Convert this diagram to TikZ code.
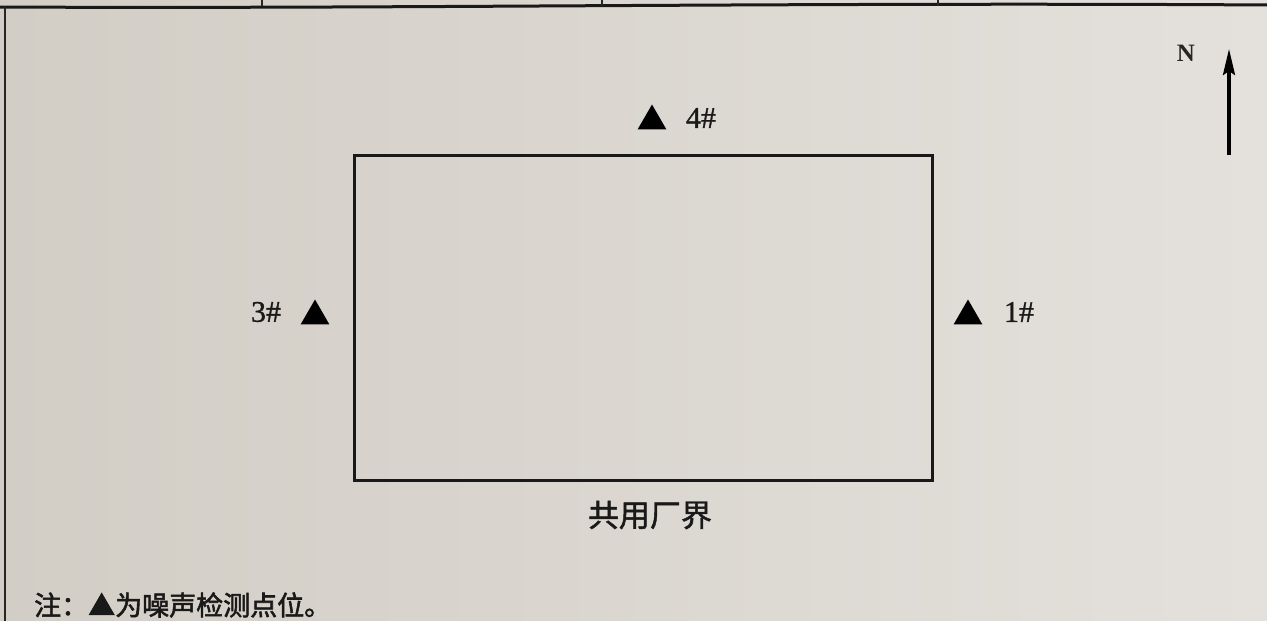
\documentclass[tikz,border=0pt]{standalone}
\usepackage{fontspec}
\setmainfont{Liberation Serif}
\newfontfamily\cjk[FakeBold=1.5]{Noto Sans CJK SC}
\newfontfamily\cjkn[FakeBold=2]{Noto Sans CJK SC}
\newfontfamily\numfont[FakeBold=1]{Liberation Serif}
\usetikzlibrary{shapes.geometric,arrows.meta}
\definecolor{paperL}{RGB}{210,205,197}
\definecolor{paperR}{RGB}{228,225,220}
\tikzset{
  line/.style={draw=black!90, line width=3pt},
  site/.style={regular polygon, regular polygon sides=3, fill=black, inner sep=0pt, minimum size=33pt},
  pt/.style={font=\numfont\fontsize{30}{30}\selectfont, text=black!90, inner sep=0pt},
  cjklabel/.style={font=\cjk\fontsize{31}{31}\selectfont, text=black!90, inner sep=0pt},
  note/.style={font=\cjkn\fontsize{27}{27}\selectfont, text=black!90, inner sep=0pt, anchor=west},
}
\begin{document}
\begin{tikzpicture}[x=1pt,y=-1pt]
\shade[left color=paperL, right color=paperR] (0,0) rectangle (1267,621);
\useasboundingbox (0,0) rectangle (1267,621);
% table frame remnants
\coordinate (tl) at (0,7);
\coordinate (tr) at (1267,5);
\draw[line] (tl) .. controls (400,9) and (800,2) .. (tr);
\foreach \x/\n in {262/a,602/b,938/c}{
  \coordinate (d\n t) at (\x,0);
  \coordinate (d\n b) at (\x,6);
  \draw[black!85, line width=1.3pt] (d\n t) -- (d\n b);
}
\coordinate (lt) at (5,7);
\coordinate (lb) at (5,621);
\draw[black!85, line width=2pt] (lt) -- (lb);
% boundary
\node[draw=black!90, line width=3pt, minimum width=578pt, minimum height=325pt, inner sep=0pt] (bound) at (643,317.5) {};
\node[cjklabel] (blabel) at (650,515) {共用厂界};
% points
\node[site] (s4) at (652,121) {};
\node[pt] (l4) at (701,118) {4\#};
\node[site] (s3) at (315,316) {};
\node[pt] (l3) at (266,312) {3\#};
\node[site] (s1) at (968,316) {};
\node[pt] (l1) at (1019,312) {1\#};
% north arrow
\node[font=\bfseries\fontsize{25}{25}\selectfont, text=black!85, inner sep=0pt] (N) at (1186,53) {N};
\coordinate (ab) at (1229,155);
\coordinate (at) at (1229,49);
\draw[black, line width=3.4pt, -{Stealth[length=26pt,width=12pt,inset=4pt]}] (ab) -- (at);
% note
\node[note] (nt) at (34,605) {注：▲为噪声检测点位。};
\end{tikzpicture}
\end{document}
